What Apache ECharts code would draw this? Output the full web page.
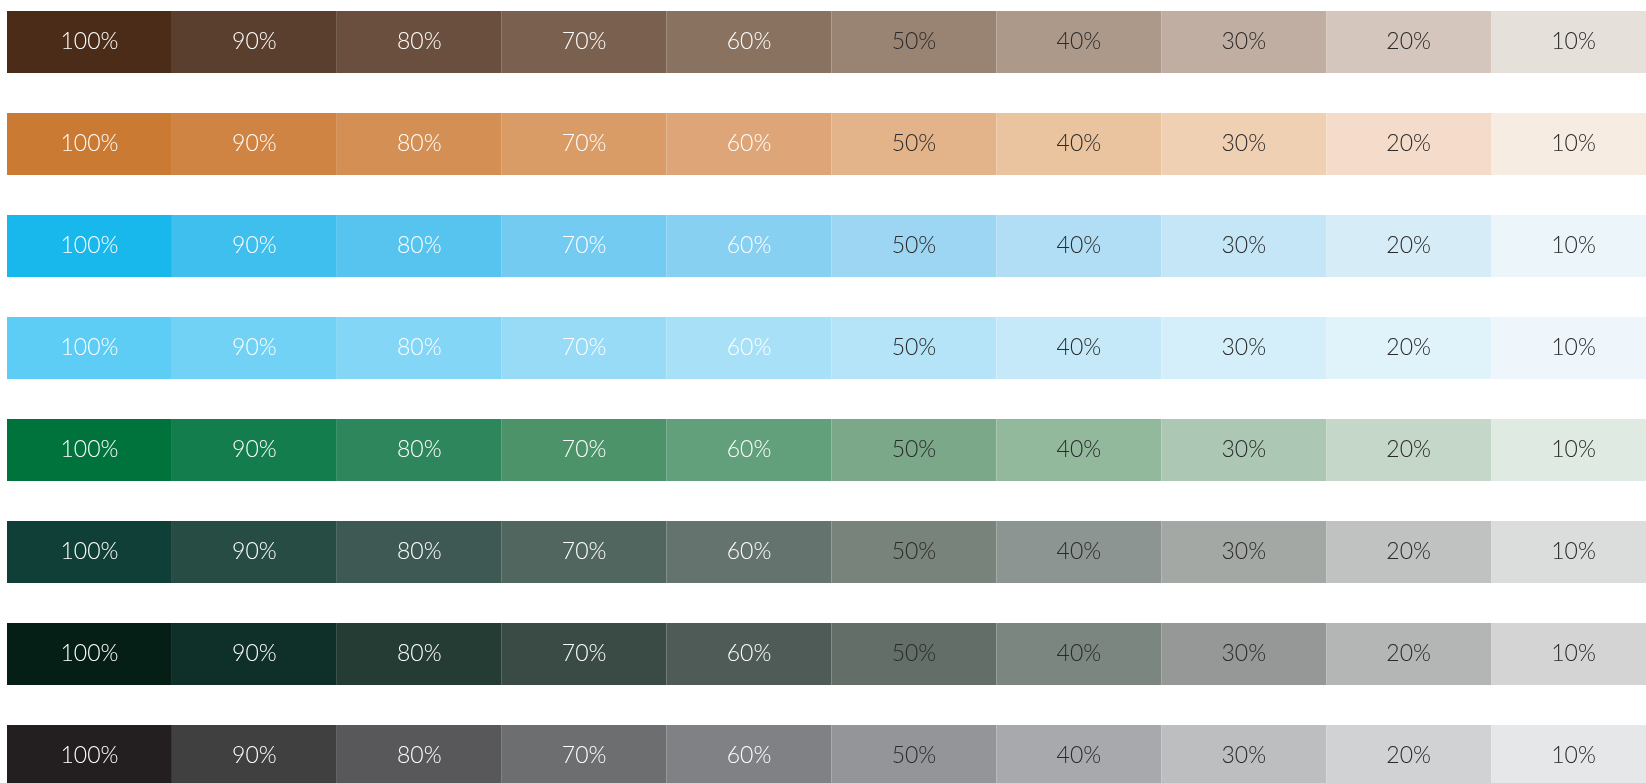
<!DOCTYPE html>
<html>
<head>
<meta charset="utf-8">
<script src="https://cdn.jsdelivr.net/npm/echarts@6/dist/echarts.min.js"></script>
<style>
html,body{margin:0;padding:0;background:#ffffff;}
#chart{width:1646px;height:783px;}
</style>
</head>
<body>
<div id="chart"></div>
<script>
// Tint levels (columns) and palette rows
const levels = ['100%','90%','80%','70%','60%','50%','40%','30%','20%','10%'];
const rows = ['Brown','Orange','Blue','Light Blue','Green','Dark Teal','Deep Green','Charcoal'];
const cellValue = [1,1,1,1,1,1,1,1,1,1];

const brown     = ['#4A2C19','#5A3F2E','#6A4F3E','#7A604F','#8A7261','#998372','#AD998A','#C1AEA2','#D4C6BC','#E5E0DA'];
const orange    = ['#CB7A33','#CF8443','#D48F55','#D99C67','#DEA678','#E3B48A','#EAC39F','#EFD0B3','#F5DCCA','#F7ECE2'];
const blue      = ['#18B8EC','#3FBFEE','#57C4F0','#73CBF2','#88D0F2','#9DD6F2','#B1DEF4','#C5E6F7','#D6EDF8','#EBF5FA'];
const lightBlue = ['#5DCDF5','#71D2F5','#84D6F6','#97DBF7','#A8E0F8','#B5E3F7','#C6E9F9','#D4EFFA','#E0F2FA','#EEF6FC'];
const green     = ['#00733D','#137D4D','#2E875C','#4D936A','#629F7B','#7AA888','#93B99D','#ACC8B4','#C4D7C8','#DFEAE2'];
const darkTeal  = ['#103F37','#274C44','#3E5953','#526660','#64736E','#78837C','#8C9592','#A4A8A5','#BFC2C0','#DBDDDC'];
const deepGreen = ['#051F17','#0F2F29','#253C35','#3A4B45','#4F5B56','#636E69','#7C8680','#959897','#B4B6B5','#D4D4D4'];
const charcoal  = ['#231F20','#404040','#58585A','#6D6E70','#808184','#939598','#A7A9AC','#BCBEC0','#D1D2D4','#E6E7E8'];
const palette = [brown, orange, blue, lightBlue, green, darkTeal, deepGreen, charcoal];

const labelColors = ['#FFFFFF','#FFFFFF','#FFFFFF','#FFFFFF','#FFFFFF','#2A2A2A','#2A2A2A','#2A2A2A','#2A2A2A','#2A2A2A'];

const series = levels.map((lvl, c) => ({
  type: 'bar',
  name: lvl,
  stack: 'tints',
  barWidth: 62,
  silent: true,
  data: rows.map((r, i) => ({
    value: cellValue[c],
    itemStyle: { color: palette[i][c] }
  })),
  label: {
    show: true,
    position: 'inside',
    formatter: lvl,
    color: labelColors[c],
    fontFamily: 'Lato, "Noto Sans", sans-serif',
    fontSize: 23,
    fontWeight: 300
  }
}));

const chart = echarts.init(document.getElementById('chart'), null, {renderer: 'canvas'});
chart.setOption({
  animation: false,
  backgroundColor: '#ffffff',
  grid: { left: 7, top: -9, width: 1649, height: 816, containLabel: false, outerBoundsMode: 'none' },
  xAxis: { type: 'value', min: 0, max: 10, show: false },
  yAxis: { type: 'category', data: rows, inverse: true, show: false },
  series: series
});
</script>
</body>
</html>
